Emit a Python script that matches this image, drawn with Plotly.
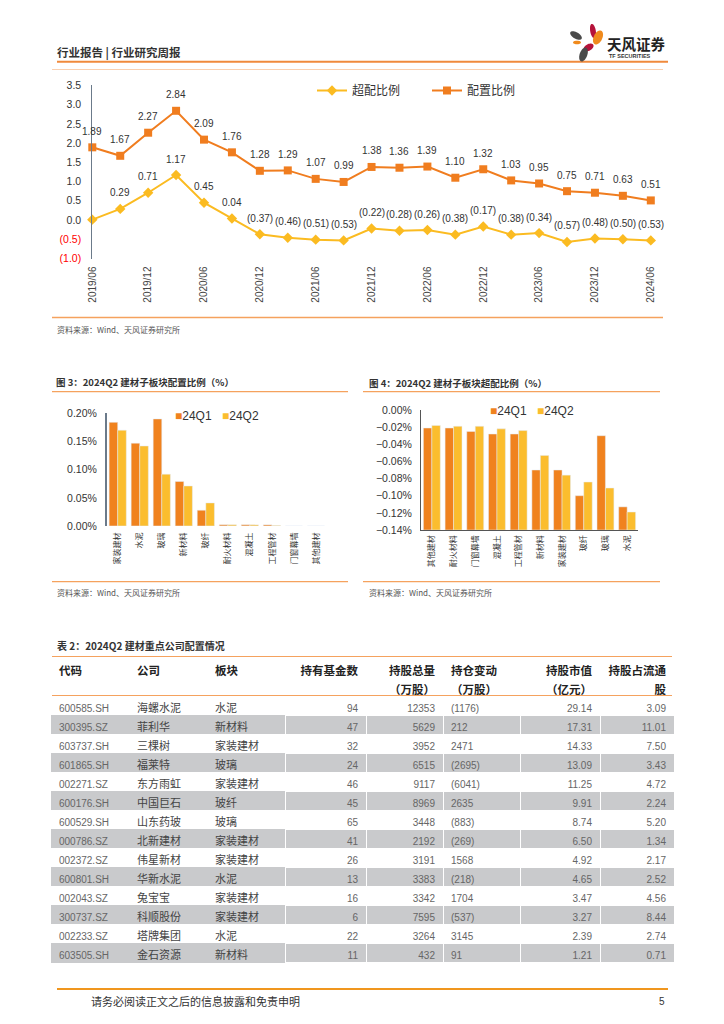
import math
import plotly.graph_objects as go

# The page adds an 8px body margin, so the figure is sized to fit the window exactly
OFF = 8
W, H = 724 - 2 * OFF, 1024 - 2 * OFF
def X(px): return (px - OFF) / W
def Y(py): return 1 - (py - OFF) / H

FONT = "Liberation Sans, Noto Sans CJK SC, sans-serif"
CJK = "Noto Sans CJK SC, Liberation Sans, sans-serif"
ORANGE = "#F0821E"
YELLOW = "#FBBD2E"
LINE_OR = "#F5A25E"

# ---------------- data ----------------
dates = ["2019/06", "2019/09", "2019/12", "2020/03", "2020/06", "2020/09", "2020/12",
         "2021/03", "2021/06", "2021/09", "2021/12", "2022/03", "2022/06", "2022/09",
         "2022/12", "2023/03", "2023/06", "2023/09", "2023/12", "2024/03", "2024/06"]
alloc = [1.89, 1.67, 2.27, 2.84, 2.09, 1.76, 1.28, 1.29, 1.07, 0.99, 1.38, 1.36, 1.39,
         1.10, 1.32, 1.03, 0.95, 0.75, 0.71, 0.63, 0.51]
over = [0.01, 0.29, 0.71, 1.17, 0.45, 0.04, -0.37, -0.46, -0.51, -0.53, -0.22, -0.28,
        -0.26, -0.38, -0.17, -0.38, -0.34, -0.57, -0.48, -0.50, -0.53]
y1_ticks = [-1.0, -0.5, 0.0, 0.5, 1.0, 1.5, 2.0, 2.5, 3.0, 3.5]

cat3 = ["家装建材", "水泥", "玻璃", "新材料", "玻纤", "耐火材料", "混凝土", "工程管材", "门窗幕墙", "其他建材"]
q1_3 = [0.184, 0.147, 0.190, 0.079, 0.028, 0.002, 0.002, 0.002, 0.000, 0.000]
q2_3 = [0.170, 0.142, 0.092, 0.071, 0.041, 0.002, 0.002, 0.001, 0.000, 0.000]

cat4 = ["其他建材", "耐火材料", "门窗幕墙", "混凝土", "工程管材", "新材料", "家装建材", "玻纤", "玻璃", "水泥"]
q1_4 = [-0.021, -0.021, -0.025, -0.028, -0.028, -0.070, -0.070, -0.100, -0.030, -0.113]
q2_4 = [-0.018, -0.019, -0.019, -0.022, -0.024, -0.053, -0.076, -0.084, -0.091, -0.119]
floor4 = -0.14

codes = ["600585.SH", "300395.SZ", "603737.SH", "601865.SH", "002271.SZ", "600176.SH", "600529.SH",
         "000786.SZ", "002372.SZ", "600801.SH", "002043.SZ", "300737.SZ", "002233.SZ", "603505.SH"]
names = ["海螺水泥", "菲利华", "三棵树", "福莱特", "东方雨虹", "中国巨石", "山东药玻",
         "北新建材", "伟星新材", "华新水泥", "兔宝宝", "科顺股份", "塔牌集团", "金石资源"]
sectors = ["水泥", "新材料", "家装建材", "玻璃", "家装建材", "玻纤", "玻璃",
           "家装建材", "家装建材", "水泥", "家装建材", "家装建材", "水泥", "新材料"]
funds = [94, 47, 32, 24, 46, 45, 65, 41, 26, 13, 16, 6, 22, 11]
shares = [12353, 5629, 3952, 6515, 9117, 8969, 3448, 2192, 3191, 3383, 3342, 7595, 3264, 432]
change = [-1176, 212, 2471, -2695, -6041, 2635, -883, -269, 1568, -218, 1704, -537, 3145, 91]
mktval = [29.14, 17.31, 14.33, 13.09, 11.25, 9.91, 8.74, 6.50, 4.92, 4.65, 3.47, 3.27, 2.39, 1.21]
float_pct = [3.09, 11.01, 7.50, 3.43, 4.72, 2.24, 5.20, 1.34, 2.17, 2.52, 4.56, 8.44, 2.74, 0.71]
header_row1 = ["代码", "公司", "板块", "持有基金数", "持股总量", "持仓变动", "持股市值", "持股占流通"]
header_row2 = ["", "", "", "", "（万股）", "（万股）", "（亿元）", "股"]

def paren(v, fmt="{:.2f}"):
    return "(" + fmt.format(abs(v)) + ")" if v < 0 else fmt.format(v)

fig = go.Figure()

# ---------------- chart 1 ----------------
fig.add_trace(go.Scatter(x=dates, y=over, name="超配比例", mode="lines+markers",
                         line=dict(color="#FBBB21", width=2),
                         marker=dict(symbol="diamond", size=8, color="#FBBB21"),
                         cliponaxis=False, xaxis="x", yaxis="y", hoverinfo="skip"))
fig.add_trace(go.Scatter(x=dates, y=alloc, name="配置比例", mode="lines+markers",
                         line=dict(color="#F07D1F", width=2),
                         marker=dict(symbol="square", size=8, color="#F07D1F"),
                         cliponaxis=False, xaxis="x", yaxis="y", hoverinfo="skip"))

annotations = []
for d, v in zip(dates, alloc):
    annotations.append(dict(x=d, y=v, xref="x", yref="y", text=paren(v), showarrow=False,
                            yshift=16, font=dict(family=FONT, size=10, color="#333")))
for i, (d, v) in enumerate(zip(dates, over)):
    if i == 0:
        continue
    annotations.append(dict(x=d, y=v, xref="x", yref="y", text=paren(v), showarrow=False,
                            yshift=16, font=dict(family=FONT, size=10, color="#333")))

y1_text = []
for t in y1_ticks:
    if t < 0:
        y1_text.append('<span style="color:#FF0000">(' + "{:.1f}".format(abs(t)) + ")</span>")
    else:
        y1_text.append("{:.1f}".format(t))

# ---------------- chart 3 ----------------
fig.add_trace(go.Bar(x=cat3, y=q1_3, name="24Q1", marker_color=ORANGE, xaxis="x2", yaxis="y2",
                     showlegend=False, hoverinfo="skip"))
fig.add_trace(go.Bar(x=cat3, y=q2_3, name="24Q2", marker_color=YELLOW, xaxis="x2", yaxis="y2",
                     showlegend=False, hoverinfo="skip"))

# ---------------- chart 4 ----------------
fig.add_trace(go.Bar(x=cat4, y=[v - floor4 for v in q1_4], base=floor4, name="24Q1",
                     marker_color=ORANGE, xaxis="x3", yaxis="y3", showlegend=False, hoverinfo="skip"))
fig.add_trace(go.Bar(x=cat4, y=[v - floor4 for v in q2_4], base=floor4, name="24Q2",
                     marker_color=YELLOW, xaxis="x3", yaxis="y3", showlegend=False, hoverinfo="skip"))

# ---------------- table ----------------
fills = [("#FFFFFF" if i % 2 == 0 else "#C9CACC") for i in range(len(codes))]
header_vals = [[a, b] for a, b in zip(header_row1, header_row2)]
aligns = ["left", "left", "left", "right", "right", "left", "right", "right"]
cell_vals = [codes, names, sectors,
             [str(v) for v in funds], [str(v) for v in shares],
             [paren(v, "{:d}") for v in change],
             ["{:.2f}".format(v) for v in mktval], ["{:.2f}".format(v) for v in float_pct]]
line_colors = [fills, fills, fills] + [["#FFFFFF"] * len(codes)] * 5
hdr_font = dict(family=CJK, size=11.5, color="#222", weight="bold")
cell_font = dict(family=[FONT, CJK, CJK, FONT, FONT, FONT, FONT, FONT],
                 size=[10, 11, 11, 10, 10, 10, 10, 10],
                 color=["#666", "#444", "#444", "#666", "#666", "#666", "#666", "#666"])

def make_table(hfont):
    return go.Table(
        domain=dict(x=[X(51), X(674)], y=[Y(964), Y(658)]),
        columnwidth=[78, 78, 78, 81, 77, 77, 80, 74],
        header=dict(values=header_vals, align=aligns, height=19, fill_color="#FFFFFF",
                    line=dict(color="#FFFFFF", width=1), font=hfont),
        cells=dict(values=cell_vals, align=aligns, height=19, fill_color=[fills] * 8,
                   line=dict(color=line_colors, width=1), font=cell_font),
    )
try:
    tbl = make_table(hdr_font)
except Exception:
    tbl = make_table(dict(family="Noto Sans CJK SC Bold, Noto Sans CJK SC", size=11.5, color="#222"))
fig.add_trace(tbl)

# ---------------- decorations ----------------
shapes = []
def hline(y, x0, x1, color, w):
    shapes.append(dict(type="line", xref="paper", yref="paper", x0=X(x0), x1=X(x1),
                       y0=Y(y), y1=Y(y), line=dict(color=color, width=w)))

hline(61.7, 57, 668, "#F08A3C", 2)
hline(69.5, 52, 663, "#FAD0B0", 1)
hline(317.5, 52, 663, LINE_OR, 1.5)
hline(391.7, 52, 348, LINE_OR, 1.2)
hline(581.7, 52, 348, LINE_OR, 1.2)
hline(391.7, 363, 660, LINE_OR, 1.2)
hline(581.7, 363, 660, LINE_OR, 1.2)
hline(656.5, 52, 672, LINE_OR, 1.2)
hline(695.5, 52, 672, LINE_OR, 1.2)
hline(989, 57, 668, "#F0961E", 2)

def petal(cx, cy, rx, ry, ang, color):
    a = math.radians(ang)
    pts = []
    for k in range(36):
        t = 2 * math.pi * k / 36
        px = rx * math.cos(t)
        py = ry * math.sin(t)
        qx = cx + px * math.cos(a) - py * math.sin(a)
        qy = cy + px * math.sin(a) + py * math.cos(a)
        pts.append((X(qx), Y(qy)))
    path = "M " + " L ".join("{:.5f},{:.5f}".format(p[0], p[1]) for p in pts) + " Z"
    shapes.append(dict(type="path", xref="paper", yref="paper", path=path,
                       fillcolor=color, line=dict(width=0)))

petal(576, 35.5, 6.5, 3.2, 30, "#4A4A4A")
petal(593, 31, 2.8, 7.2, -10, "#B5123A")
petal(598, 37.5, 4.3, 7.5, 25, "#F08A1C")
petal(577, 42.5, 4.0, 1.8, 0, "#F08A1C")
petal(588.5, 47.5, 5.5, 3.3, -30, "#B5123A")
petal(583.5, 54.5, 3.8, 7.3, 20, "#4A4A4A")

def txt(x, y, s, size, color="#333", xanchor="left", family=CJK):
    annotations.append(dict(x=X(x), y=Y(y), xref="paper", yref="paper", text=s, showarrow=False,
                            xanchor=xanchor, yanchor="middle",
                            font=dict(family=family, size=size, color=color)))

txt(55, 52.5, "<b>行业报告 | 行业研究周报</b>", 11.5, "#333")
txt(605, 44, "<b>天风证券</b>", 14.5, "#222")
txt(606.5, 56, "<b>TF SECURITIES</b>", 5.5, "#333", family=FONT)
txt(55, 329.5, "资料来源：Wind、天风证券研究所", 8, "#555")
txt(54, 382, "<b>图 3：2024Q2 建材子板块配置比例（%）</b>", 9.5, "#333")
txt(367, 382.5, "<b>图 4：2024Q2 建材子板块超配比例（%）</b>", 9.5, "#333")
txt(55, 592, "资料来源：Wind、天风证券研究所", 8, "#555")
txt(367, 592, "资料来源：Wind、天风证券研究所", 8, "#555")
txt(55, 645.5, "<b>表 2：2024Q2 建材重点公司配置情况</b>", 10, "#333")
txt(89, 1001, "请务必阅读正文之后的信息披露和免责申明", 11, "#333")
txt(667, 1001, "5", 10, "#333", xanchor="right", family=FONT)

# bar-chart legends
def leg(x, y, color, label):
    txt(x, y, '<span style="color:' + color + '">■</span>' + label, 12, "#333", family=FONT)
leg(172.5, 416, ORANGE, "24Q1")
leg(219.5, 416, YELLOW, "24Q2")
leg(487.5, 411, ORANGE, "24Q1")
leg(534.5, 411, YELLOW, "24Q2")

axis_line = "#6B7A8A"
fig.update_layout(
    width=W, height=H, margin=dict(l=0, r=0, t=0, b=0, autoexpand=False),
    paper_bgcolor="white", plot_bgcolor="rgba(0,0,0,0)",
    bargap=0.22, bargroupgap=0, barmode="group",
    showlegend=True,
    legend=dict(orientation="h", x=X(312), y=Y(90.5), xanchor="left", yanchor="middle",
                font=dict(family=CJK, size=12, color="#333"), bgcolor="rgba(0,0,0,0)",
                entrywidth=70, itemwidth=30),
    xaxis=dict(domain=[X(92.3), X(650.8)], type="category", range=[0, 20], automargin=False,
               tickmode="array", tickvals=dates[::2], ticktext=dates[::2],
               tickangle=-90, tickfont=dict(family=FONT, size=10, color="#444"),
               showline=False, showgrid=False, zeroline=False, ticks="", ticklabelstandoff=5,
               anchor="y"),
    yaxis=dict(domain=[Y(258.5), Y(85.4)], range=[-1.0, 3.5], tickmode="array", automargin=False,
               tickvals=y1_ticks, ticktext=y1_text,
               tickfont=dict(family=FONT, size=10.5, color="#333"),
               showline=True, linecolor=axis_line, linewidth=1, showgrid=False,
               zeroline=False, ticks="", ticklabelstandoff=8, anchor="x"),
    xaxis2=dict(domain=[X(106.7), X(327)], anchor="y2", type="category", automargin=False,
                tickangle=-90, tickfont=dict(family=CJK, size=8, color="#333"),
                showline=False, showgrid=False, zeroline=False, ticks="", ticklabelstandoff=4),
    yaxis2=dict(domain=[Y(526), Y(413.3)], anchor="x2", range=[0, 0.2], dtick=0.05, automargin=False,
                tickformat=".2f", ticksuffix="%",
                tickfont=dict(family=FONT, size=10.5, color="#333"),
                showline=True, linecolor=axis_line, linewidth=1.5, showgrid=False,
                zeroline=False, ticks="", ticklabelstandoff=6),
    xaxis3=dict(domain=[X(421), X(638)], anchor="y3", type="category", automargin=False,
                tickangle=-90, tickfont=dict(family=CJK, size=8, color="#333"),
                showline=True, linecolor="#555", linewidth=1, showgrid=False, zeroline=False,
                ticks="", ticklabelstandoff=1),
    yaxis3=dict(domain=[Y(530), Y(410)], anchor="x3", range=[-0.14, 0], dtick=0.02, automargin=False,
                tickformat=".2f", ticksuffix="%",
                tickfont=dict(family=FONT, size=10.5, color="#333"),
                showline=True, linecolor="#555", linewidth=1, showgrid=False,
                zeroline=False, ticks="", ticklabelstandoff=6),
    shapes=shapes, annotations=annotations,
)

fig.write_html("out.html")
